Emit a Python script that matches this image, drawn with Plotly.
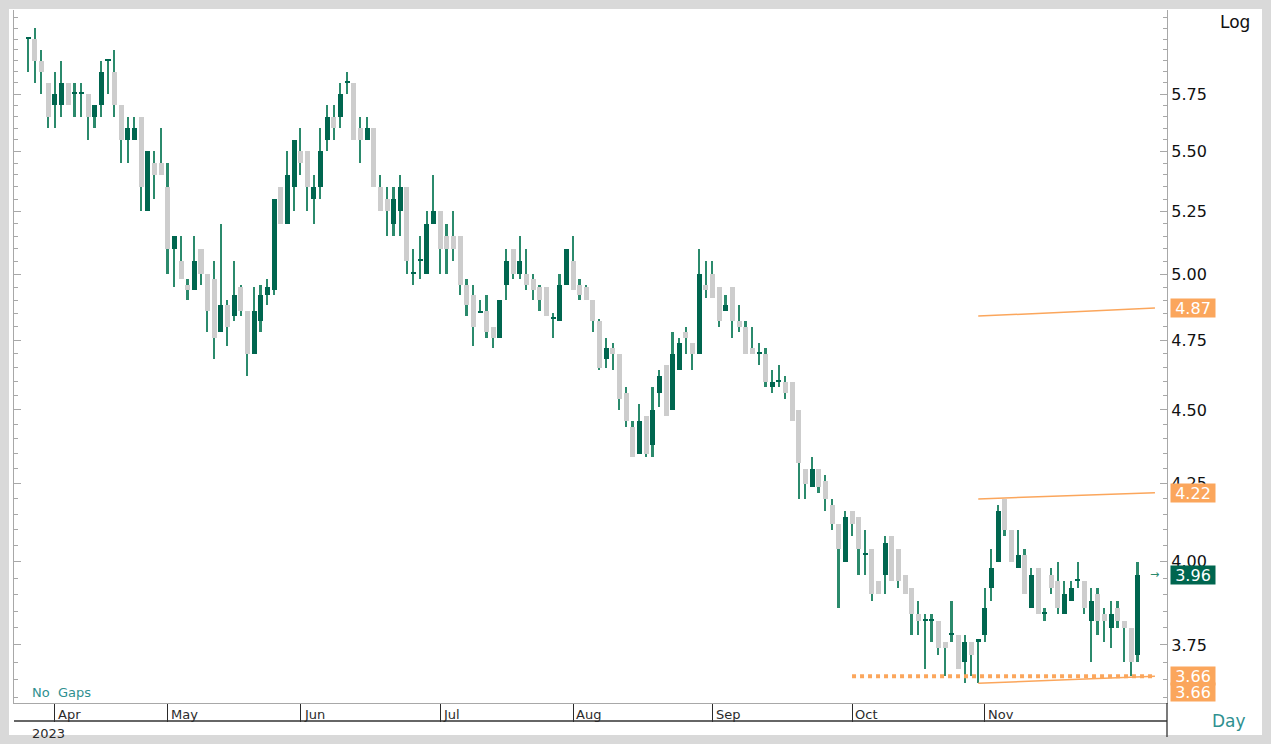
import numpy as np
import plotly.graph_objects as go

# ---- daily OHLC (trading-day index order) ----
opens = [6.00, 6.00, 5.90, 5.80, 5.70, 5.70, 5.80, 5.75, 5.75, 5.75,
         5.65, 5.70, 5.90, 5.85, 5.70, 5.55, 5.55, 5.65, 5.25, 5.45,
         5.45, 5.35, 5.10, 5.05, 4.96, 4.94, 5.10, 5.00, 4.98, 4.78,
         4.88, 4.84, 4.95, 4.86, 4.70, 4.82, 4.92, 4.94, 5.35, 5.20,
         5.35, 5.50, 5.50, 5.30, 5.35, 5.55, 5.65, 5.65, 5.80, 5.80,
         5.60, 5.55, 5.60, 5.35, 5.30, 5.20, 5.25, 5.35, 5.00, 5.05,
         5.00, 5.20, 5.25, 5.15, 5.15, 5.15, 4.96, 4.92, 4.85, 4.86,
         4.80, 4.76, 4.96, 5.10, 5.00, 5.00, 4.98, 4.95, 4.95, 4.83,
         4.82, 4.96, 5.05, 4.96, 4.95, 4.90, 4.82, 4.68, 4.72, 4.70,
         4.56, 4.44, 4.35, 4.48, 4.38, 4.56, 4.66, 4.50, 4.64, 4.78,
         4.74, 4.70, 4.96, 5.00, 4.95, 4.86, 4.95, 4.82, 4.80, 4.72,
         4.70, 4.70, 4.58, 4.60, 4.60, 4.60, 4.50, 4.30, 4.24, 4.30,
         4.26, 4.18, 4.12, 4.00, 4.16, 4.14, 4.02, 4.04, 3.94, 3.96,
         4.08, 4.04, 3.96, 3.92, 3.84, 3.82, 3.82, 3.82, 3.76, 3.78,
         3.78, 3.70, 3.76, 3.76, 3.78, 3.92, 4.00, 4.20, 4.10, 3.98,
         4.02, 3.86, 3.98, 3.84, 3.96, 3.94, 3.84, 3.88, 3.94, 3.94,
         3.82, 3.90, 3.84, 3.80, 3.86, 3.82, 3.80, 3.72]
highs = [6.00, 6.05, 5.95, 5.80, 5.85, 5.90, 5.80, 5.80, 5.80, 5.75,
         5.70, 5.90, 5.90, 5.95, 5.70, 5.65, 5.65, 5.65, 5.50, 5.50,
         5.60, 5.45, 5.15, 5.15, 4.98, 5.15, 5.10, 5.00, 5.05, 5.20,
         4.90, 5.05, 4.96, 4.86, 4.95, 4.96, 4.98, 5.30, 5.35, 5.50,
         5.55, 5.60, 5.50, 5.40, 5.60, 5.70, 5.70, 5.80, 5.85, 5.80,
         5.65, 5.65, 5.60, 5.40, 5.35, 5.35, 5.40, 5.35, 5.10, 5.15,
         5.25, 5.40, 5.25, 5.20, 5.25, 5.15, 4.98, 4.96, 4.90, 4.92,
         4.80, 4.90, 5.10, 5.10, 5.15, 5.10, 5.00, 4.96, 4.95, 4.85,
         5.00, 5.10, 5.15, 4.98, 4.96, 4.90, 4.83, 4.76, 4.74, 4.70,
         4.58, 4.46, 4.52, 4.48, 4.58, 4.64, 4.66, 4.78, 4.76, 4.80,
         4.74, 5.10, 5.05, 5.05, 4.95, 4.92, 4.95, 4.88, 4.82, 4.80,
         4.74, 4.72, 4.64, 4.66, 4.62, 4.60, 4.50, 4.30, 4.34, 4.30,
         4.28, 4.20, 4.12, 4.16, 4.16, 4.14, 4.10, 4.04, 3.94, 4.08,
         4.08, 4.04, 3.96, 3.92, 3.88, 3.84, 3.84, 3.82, 3.76, 3.88,
         3.78, 3.78, 3.76, 3.76, 3.92, 4.04, 4.18, 4.20, 4.10, 4.10,
         4.04, 3.98, 3.98, 3.86, 3.98, 4.00, 3.94, 3.94, 4.00, 3.94,
         3.92, 3.92, 3.86, 3.88, 3.88, 3.82, 3.80, 4.00]
lows = [5.85, 5.80, 5.75, 5.60, 5.60, 5.65, 5.70, 5.65, 5.65, 5.55,
        5.60, 5.65, 5.75, 5.65, 5.45, 5.45, 5.55, 5.25, 5.25, 5.30,
        5.40, 5.00, 4.95, 4.98, 4.90, 4.94, 4.96, 4.78, 4.68, 4.78,
        4.73, 4.82, 4.84, 4.62, 4.70, 4.78, 4.88, 4.92, 5.20, 5.20,
        5.25, 5.40, 5.25, 5.20, 5.30, 5.50, 5.55, 5.60, 5.75, 5.55,
        5.45, 5.55, 5.35, 5.25, 5.15, 5.15, 5.15, 5.00, 4.96, 4.98,
        5.00, 5.20, 5.00, 5.00, 5.05, 4.92, 4.84, 4.73, 4.85, 4.76,
        4.72, 4.76, 4.90, 4.98, 4.98, 4.94, 4.90, 4.86, 4.84, 4.76,
        4.82, 4.96, 4.94, 4.90, 4.90, 4.78, 4.64, 4.65, 4.64, 4.50,
        4.44, 4.34, 4.35, 4.34, 4.34, 4.51, 4.48, 4.50, 4.64, 4.70,
        4.64, 4.70, 4.91, 4.91, 4.80, 4.86, 4.76, 4.78, 4.70, 4.70,
        4.66, 4.58, 4.56, 4.58, 4.54, 4.46, 4.20, 4.20, 4.24, 4.22,
        4.16, 4.10, 3.86, 4.00, 4.08, 3.96, 3.96, 3.88, 3.90, 3.90,
        3.94, 3.92, 3.90, 3.78, 3.78, 3.68, 3.76, 3.72, 3.66, 3.76,
        3.68, 3.64, 3.66, 3.64, 3.76, 3.88, 4.00, 4.08, 4.00, 3.98,
        3.90, 3.86, 3.84, 3.82, 3.90, 3.84, 3.84, 3.88, 3.92, 3.84,
        3.70, 3.78, 3.76, 3.74, 3.80, 3.70, 3.66, 3.70]
closes = [6.00, 5.90, 5.85, 5.65, 5.75, 5.80, 5.70, 5.75, 5.75, 5.65,
          5.70, 5.85, 5.90, 5.70, 5.55, 5.60, 5.60, 5.35, 5.50, 5.40,
          5.40, 5.10, 5.15, 4.98, 4.94, 5.05, 5.00, 4.86, 4.76, 4.88,
          4.80, 4.92, 4.86, 4.70, 4.86, 4.92, 4.95, 5.30, 5.20, 5.40,
          5.55, 5.45, 5.35, 5.35, 5.50, 5.65, 5.60, 5.75, 5.80, 5.55,
          5.55, 5.60, 5.35, 5.25, 5.25, 5.30, 5.35, 5.05, 5.00, 5.05,
          5.20, 5.25, 5.10, 5.10, 5.10, 4.96, 4.88, 4.80, 4.85, 4.78,
          4.76, 4.90, 5.05, 5.00, 5.05, 4.96, 4.94, 4.90, 4.84, 4.83,
          4.96, 5.10, 4.94, 4.92, 4.90, 4.82, 4.65, 4.72, 4.70, 4.54,
          4.46, 4.34, 4.46, 4.35, 4.50, 4.62, 4.48, 4.70, 4.74, 4.76,
          4.70, 5.00, 4.94, 4.91, 4.82, 4.88, 4.82, 4.80, 4.70, 4.70,
          4.70, 4.60, 4.60, 4.60, 4.56, 4.46, 4.32, 4.25, 4.30, 4.24,
          4.20, 4.12, 4.04, 4.14, 4.12, 4.04, 4.02, 3.90, 3.90, 4.06,
          3.94, 3.94, 3.90, 3.84, 3.82, 3.82, 3.82, 3.74, 3.74, 3.78,
          3.68, 3.76, 3.72, 3.76, 3.86, 3.98, 4.16, 4.10, 4.00, 4.02,
          3.90, 3.96, 3.84, 3.84, 3.92, 3.86, 3.90, 3.92, 3.94, 3.86,
          3.88, 3.82, 3.82, 3.84, 3.82, 3.80, 3.70, 3.96]

months = ["Apr", "May", "Jun", "Jul", "Aug", "Sep", "Oct", "Nov"]
month_start = [4, 21, 41, 62, 82, 103, 124, 144]
year_label = "2023"

price_ticks = [3.75, 4.00, 4.25, 4.50, 4.75, 5.00, 5.25, 5.50, 5.75, 6.00]
price_labels = ["3.75", "4.00", "4.25", "4.50", "4.75", "5.00", "5.25", "5.50", "5.75", ""]
minor_ticks = [round(3.55 + 0.05 * k, 2) for k in range(0, 52)]

# analysis lines (channel + support)
trend_x = [143, 169.6]
upper_line = [4.84, 4.87]
middle_line = [4.20, 4.22]
lower_line = [3.64, 3.66]
support_x = [124, 169.6]
support_line = [3.66, 3.66]
last_close = closes[-1]

GREEN = "#00664f"
WICK = "#2b8a6c"
GREY = "#cdcdcd"
ORANGE = "#fba65c"
TEAL = "#2f9090"
AXIS = "#a8a8a8"

n = len(opens)
idx = list(range(n))
body_base = [min(o, c) for o, c in zip(opens, closes)]
body_h = [max(abs(c - o), 0.0016 * o) for o, c in zip(opens, closes)]
body_col = [GREEN if c >= o else GREY for o, c in zip(opens, closes)]

fig = go.Figure()
fig.add_trace(go.Bar(x=idx, base=lows, y=[h - l for h, l in zip(highs, lows)],
                     width=0.25, marker=dict(color=WICK, line=dict(width=0)),
                     hoverinfo="skip", showlegend=False))
fig.add_trace(go.Bar(x=idx, base=body_base, y=body_h, width=0.76,
                     marker=dict(color=body_col, line=dict(width=0)),
                     customdata=np.stack([opens, highs, lows, closes], axis=1),
                     hovertemplate="O %{customdata[0]:.2f}<br>H %{customdata[1]:.2f}<br>L %{customdata[2]:.2f}<br>C %{customdata[3]:.2f}<extra></extra>",
                     showlegend=False))

for ys in (upper_line, middle_line, lower_line):
    fig.add_trace(go.Scatter(x=trend_x, y=ys, mode="lines",
                             line=dict(color=ORANGE, width=1.5),
                             hoverinfo="skip", showlegend=False))
fig.add_trace(go.Scatter(x=support_x, y=support_line, mode="lines",
                         line=dict(color=ORANGE, width=4, dash="dot"),
                         hoverinfo="skip", showlegend=False))

W, H = 1271, 744
L, R, T, B = 14, 1167, 10, 703
pw, ph = R - L, B - T


def px(xpix):
    return (xpix - L) / pw


def py(ypix):
    return (B - ypix) / ph


spacing = 6.643
x0 = -(28.3 - L) / spacing
x1 = x0 + pw / spacing
ytop = 5.75 * np.exp((94 - T) / 1289)
ybot = 5.75 * np.exp(-(B - 94) / 1289)

FONT = "DejaVu Sans"

fig.update_layout(
    width=W, height=H, autosize=False,
    margin=dict(l=L, r=W - R, t=T, b=H - B, pad=0),
    paper_bgcolor="#d9d9d9", plot_bgcolor="white",
    barmode="overlay", bargap=0,
    hovermode="closest",
    xaxis=dict(range=[x0, x1], showgrid=False, zeroline=False,
               tickmode="array", tickvals=month_start, ticktext=months,
               showticklabels=False, ticks="outside", ticklen=18,
               tickwidth=1.3, tickcolor="#2a2a2a",
               showline=True, linecolor=AXIS, linewidth=1.2),
    yaxis=dict(type="log", range=[np.log10(ybot), np.log10(ytop)],
               side="right", showgrid=False, zeroline=False,
               tickmode="array", tickvals=price_ticks, ticktext=price_labels,
               ticks="inside", ticklen=7, tickwidth=1, tickcolor=AXIS,
               showline=True, linecolor=AXIS, linewidth=1.2, mirror="ticks",
               tickfont=dict(family=FONT, size=16, color="#111111"),
               minor=dict(tickmode="array", tickvals=minor_ticks, ticks="inside",
                          ticklen=4, tickwidth=1, tickcolor=AXIS, showgrid=False)),
    font=dict(family=FONT),
)

shapes = [
    dict(type="rect", xref="paper", yref="paper", layer="below",
         x0=px(9), x1=px(1262), y0=py(735), y1=py(9),
         fillcolor="white", line=dict(width=0)),
    dict(type="line", xref="paper", yref="paper",
         x0=px(14), x1=px(1167), y0=py(721), y1=py(721),
         line=dict(color="#333333", width=1.5)),
    dict(type="line", xref="paper", yref="paper",
         x0=1, x1=1, y0=py(703), y1=py(737),
         line=dict(color="#333333", width=1.3)),
]
fig.update_layout(shapes=shapes)

ann = []
for m, s in zip(months, month_start):
    ann.append(dict(x=s, xref="x", y=py(714), yref="paper", text=m, showarrow=False,
                    xanchor="left", yanchor="middle", xshift=1,
                    font=dict(family=FONT, size=13, color="#2b2b2b")))
ann.append(dict(x=px(30), xref="paper", y=py(733), yref="paper", text=year_label,
                showarrow=False, xanchor="left", yanchor="middle",
                font=dict(family=FONT, size=13, color="#2b2b2b")))
ann.append(dict(x=px(30), xref="paper", y=py(692), yref="paper", text="No&nbsp;&nbsp;Gaps",
                showarrow=False, xanchor="left", yanchor="middle",
                font=dict(family=FONT, size=13, color=TEAL)))
ann.append(dict(x=px(1235), xref="paper", y=py(22), yref="paper", text="Log",
                showarrow=False, xanchor="center", yanchor="middle",
                font=dict(family=FONT, size=17, color="#111111")))
ann.append(dict(x=px(1229), xref="paper", y=py(721), yref="paper", text="Day",
                showarrow=False, xanchor="center", yanchor="middle",
                font=dict(family=FONT, size=17, color=TEAL)))


def price_box(val, color, shift=0):
    return dict(x=px(1170), xref="paper", y=np.log10(val), yref="y",
                text=f"{val:.2f}", showarrow=False, xanchor="left", yanchor="middle",
                yshift=shift, bgcolor=color, width=44, height=18, borderpad=0,
                align="center", font=dict(family=FONT, size=16, color="white"))


ann.append(price_box(upper_line[-1], ORANGE))
ann.append(price_box(middle_line[-1], ORANGE))
ann.append(price_box(last_close, GREEN))
ann.append(price_box(lower_line[-1], ORANGE))
ann.append(price_box(support_line[-1], ORANGE, shift=-16))
ann.append(dict(x=px(1154), xref="paper", y=np.log10(last_close), yref="y",
                text="→", showarrow=False, xanchor="center", yanchor="middle",
                font=dict(family=FONT, size=11, color=WICK)))
fig.update_layout(annotations=ann)

fig.write_html(
    "out.html",
    config={"displayModeBar": False},
    post_script="document.body.style.margin='0';document.body.style.padding='0';"
                "document.body.style.background='#d9d9d9';"
                "document.documentElement.style.overflow='hidden';",
)
